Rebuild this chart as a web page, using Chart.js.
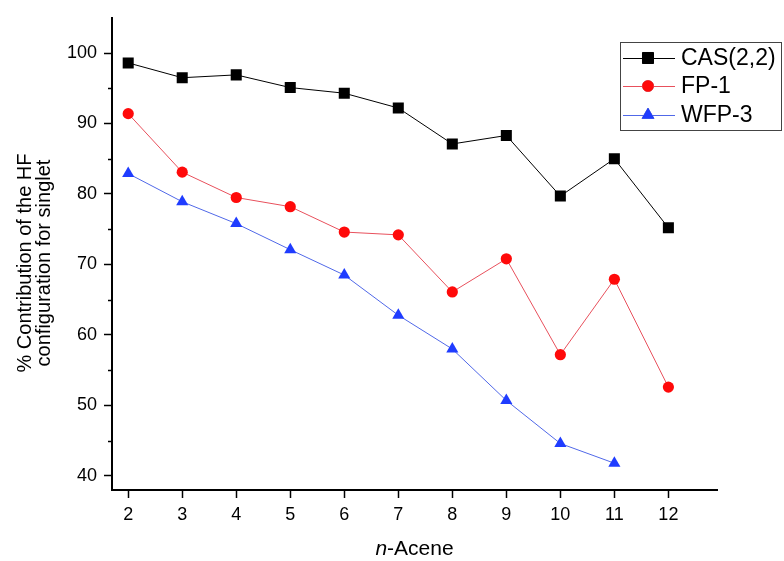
<!DOCTYPE html>
<html lang="en">
<head>
    <meta charset="UTF-8">
    <title>HF configuration contribution vs n-Acene</title>
    <script src="https://cdn.jsdelivr.net/npm/chart.js"></script>
</head>
<style>
    html, body { margin: 0; padding: 0; background: #fff; }
    #wrap { width: 784px; height: 561px; }
</style>
<body>
<div id="wrap">
    <canvas id="aceneChart" width="784" height="561"></canvas>
</div>
<script>
    // data
    var acenes = [2, 3, 4, 5, 6, 7, 8, 9, 10, 11, 12];
    var cas22 = [98.6, 96.5, 96.9, 95.1, 94.3, 92.2, 87.1, 88.3, 79.7, 85.0, 75.2];
    var fp1 = [91.4, 83.1, 79.5, 78.2, 74.6, 74.2, 66.1, 70.8, 57.2, 67.9, 52.6];
    var wfp3 = [82.9, 78.9, 75.8, 72.1, 68.5, 62.8, 58.0, 50.7, 44.6, 41.8];
    var yTicks = [40, 50, 60, 70, 80, 90, 100];
    var yMinorTicks = [45, 55, 65, 75, 85, 95];
    var seriesNames = ['CAS(2,2)', 'FP-1', 'WFP-3'];

    function toPoints(vals) {
        return vals.map(function (v, i) { return { x: acenes[i], y: v }; });
    }

    var FONT = "'Liberation Sans', Arial, sans-serif";

    // minor ticks, axis titles and the boxed legend
    var extras = {
        id: 'extras',
        afterDraw: function (chart) {
            var ctx = chart.ctx;
            var ys = chart.scales.y;
            var area = chart.chartArea;
            ctx.save();
            ctx.strokeStyle = '#000';
            ctx.lineWidth = 1.5;
            yMinorTicks.forEach(function (v) {
                var py = Math.round(ys.getPixelForValue(v)) + 0.5;
                ctx.beginPath();
                ctx.moveTo(area.left - 4, py);
                ctx.lineTo(area.left, py);
                ctx.stroke();
            });

            // x title with italic n
            ctx.fillStyle = '#000';
            ctx.textBaseline = 'alphabetic';
            ctx.font = 'italic 21px ' + FONT;
            var w1 = ctx.measureText('n').width;
            ctx.font = '21px ' + FONT;
            var w2 = ctx.measureText('-Acene').width;
            var cx = (area.left + area.right) / 2;
            var x0 = cx - (w1 + w2) / 2;
            ctx.font = 'italic 21px ' + FONT;
            ctx.fillText('n', x0, 555);
            ctx.font = '21px ' + FONT;
            ctx.fillText('-Acene', x0 + w1, 555);

            // y title, two lines
            ctx.save();
            ctx.translate(0, 263);
            ctx.rotate(-Math.PI / 2);
            ctx.textAlign = 'center';
            ctx.textBaseline = 'middle';
            ctx.font = '20px ' + FONT;
            ctx.fillText('% Contribution of the HF', 0, 25);
            ctx.fillText('configuration for singlet', 0, 44);
            ctx.restore();

            // legend
            ctx.lineWidth = 1;
            ctx.strokeStyle = '#444';
            ctx.strokeRect(620.5, 42.5, 161, 88);
            var rows = [58, 86, 115];
            chart.data.datasets.forEach(function (ds, i) {
                var ly = rows[i];
                ctx.strokeStyle = ds.borderColor;
                ctx.lineWidth = 1;
                ctx.beginPath();
                ctx.moveTo(623, ly + 0.5);
                ctx.lineTo(675, ly + 0.5);
                ctx.stroke();
                Chart.helpers.drawPoint(ctx, {
                    pointStyle: ds.pointStyle,
                    radius: ds.pointRadius,
                    rotation: 0,
                    borderWidth: 1
                }, 648, ly);
                ctx.fillStyle = ds.pointBackgroundColor;
                ctx.strokeStyle = ds.pointBorderColor;
                ctx.fill();
                ctx.fillStyle = '#000';
                ctx.textAlign = 'left';
                ctx.textBaseline = 'middle';
                ctx.font = '23px ' + FONT;
                ctx.fillText(seriesNames[i], 681, ly + 1);
            });
            ctx.restore();
        }
    };

    var aceneChart = new Chart(document.getElementById('aceneChart').getContext('2d'), {
        type: 'line',
        data: {
            datasets: [{
                label: seriesNames[0],
                data: toPoints(cas22),
                borderColor: '#000000',
                borderWidth: 1,
                pointStyle: 'rect',
                pointRadius: 7.8,
                pointBackgroundColor: '#000000',
                pointBorderColor: '#000000',
                pointBorderWidth: 0
            }, {
                label: seriesNames[1],
                data: toPoints(fp1),
                borderColor: '#e8505c',
                borderWidth: 1,
                pointStyle: 'circle',
                pointRadius: 5.6,
                pointBackgroundColor: '#ff0a0a',
                pointBorderColor: '#ff0a0a',
                pointBorderWidth: 0
            }, {
                label: seriesNames[2],
                data: toPoints(wfp3),
                borderColor: '#5068e8',
                borderWidth: 1,
                pointStyle: 'triangle',
                pointRadius: 7,
                pointBackgroundColor: '#1f3cff',
                pointBorderColor: '#1f3cff',
                pointBorderWidth: 0
            }]
        },
        options: {
            responsive: false,
            animation: false,
            layout: { padding: { left: 0, right: 67, top: 3, bottom: 0 } },
            plugins: {
                legend: { display: false },
                tooltip: { enabled: false }
            },
            scales: {
                x: {
                    type: 'linear',
                    min: 1.7,
                    max: 12.9,
                    afterFit: function (s) { s.height = 71; },
                    afterBuildTicks: function (s) {
                        s.ticks = acenes.map(function (v) { return { value: v }; });
                    },
                    grid: { display: true, drawOnChartArea: false, drawTicks: true, tickLength: 8, color: '#000', tickWidth: 1.5 },
                    border: { display: true, color: '#000', width: 2 },
                    ticks: { color: '#000', font: { family: FONT, size: 18 }, padding: 6, maxRotation: 0 }
                },
                y: {
                    min: 38,
                    max: 105,
                    afterFit: function (s) { s.width = 112; },
                    afterBuildTicks: function (s) {
                        s.ticks = yTicks.map(function (v) { return { value: v }; });
                    },
                    grid: { display: true, drawOnChartArea: false, drawTicks: true, tickLength: 8, color: '#000', tickWidth: 1.5 },
                    border: { display: true, color: '#000', width: 2 },
                    ticks: { color: '#000', font: { family: FONT, size: 18 }, padding: 7 }
                }
            }
        },
        plugins: [extras]
    });
</script>
</body>
</html>
